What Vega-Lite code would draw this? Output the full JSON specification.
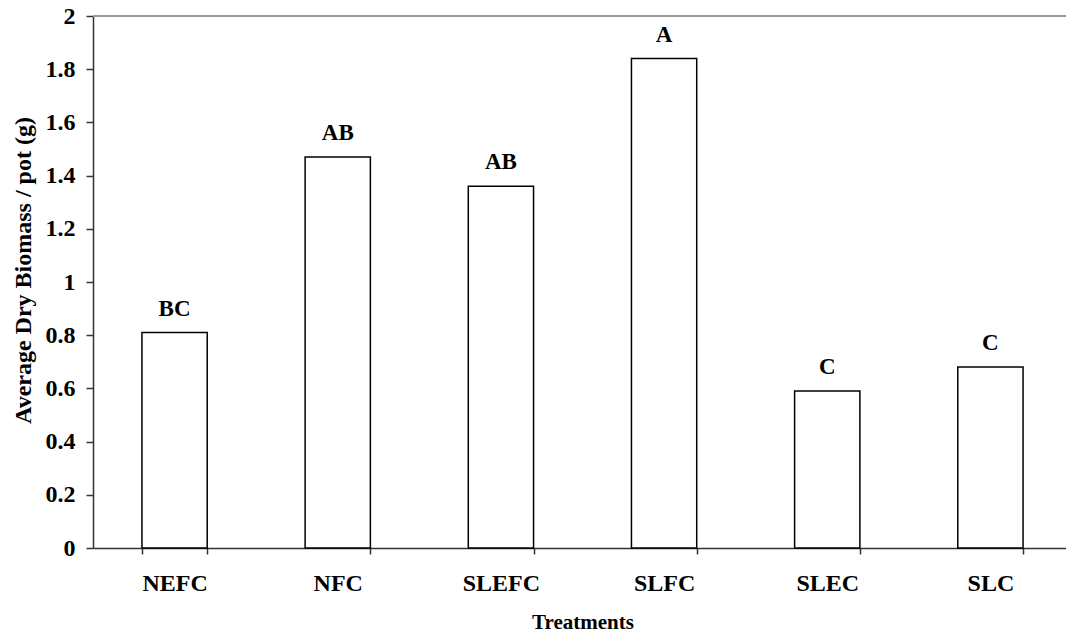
{
  "$schema": "https://vega.github.io/schema/vega-lite/v6.json",
  "autosize": "none",
  "padding": {"left": 93, "top": 16, "right": 0, "bottom": 86},
  "width": 979,
  "height": 532,
  "background": "white",
  "config": {
    "view": {"stroke": null},
    "font": "Liberation Serif"
  },
  "data": {
    "values": [
      {"treatment": "NEFC", "biomass": 0.81, "letter": "BC"},
      {"treatment": "NFC", "biomass": 1.47, "letter": "AB"},
      {"treatment": "SLEFC", "biomass": 1.36, "letter": "AB"},
      {"treatment": "SLFC", "biomass": 1.84, "letter": "A"},
      {"treatment": "SLEC", "biomass": 0.59, "letter": "C"},
      {"treatment": "SLC", "biomass": 0.68, "letter": "C"}
    ]
  },
  "encoding": {
    "x": {
      "field": "treatment",
      "type": "nominal",
      "sort": null,
      "scale": {"paddingInner": 0.6, "paddingOuter": 0.3},
      "axis": {
        "title": "Treatments",
        "titleFont": "Liberation Serif",
        "titleFontWeight": "bold",
        "titleFontSize": 21,
        "titleColor": "black",
        "titlePadding": 16,
        "labelAngle": 0,
        "labelFont": "Liberation Serif",
        "labelFontWeight": "bold",
        "labelFontSize": 24,
        "labelColor": "black",
        "labelPadding": 17,
        "tickBand": "extent",
        "tickSize": 6,
        "tickColor": "#333",
        "domainColor": "#333",
        "domainWidth": 1.5,
        "tickWidth": 1.5
      }
    },
    "y": {
      "field": "biomass",
      "type": "quantitative",
      "scale": {"domain": [0, 2], "nice": false},
      "axis": {
        "title": "Average Dry Biomass / pot (g)",
        "titleFont": "Liberation Serif",
        "titleFontWeight": "bold",
        "titleFontSize": 24,
        "titleColor": "black",
        "titlePadding": 10,
        "titleY": 254,
        "values": [0, 0.2, 0.4, 0.6, 0.8, 1, 1.2, 1.4, 1.6, 1.8, 2],
        "format": "~g",
        "labelFont": "Liberation Serif",
        "labelFontWeight": "bold",
        "labelFontSize": 24,
        "labelColor": "black",
        "labelPadding": 11,
        "tickSize": 7,
        "tickColor": "#333",
        "tickWidth": 1.5,
        "domainColor": "#333",
        "domainWidth": 1.5,
        "grid": false
      }
    }
  },
  "layer": [
    {
      "mark": {"type": "rule", "color": "#999999", "strokeWidth": 2},
      "encoding": {"y": {"datum": 2}, "x": null}
    },
    {
      "mark": {"type": "bar", "fill": "white", "stroke": "black", "strokeWidth": 1.5}
    },
    {
      "mark": {
        "type": "text",
        "font": "Liberation Serif",
        "fontWeight": "bold",
        "fontSize": 23,
        "color": "black",
        "baseline": "alphabetic",
        "dy": -17
      },
      "encoding": {"text": {"field": "letter"}}
    }
  ]
}
